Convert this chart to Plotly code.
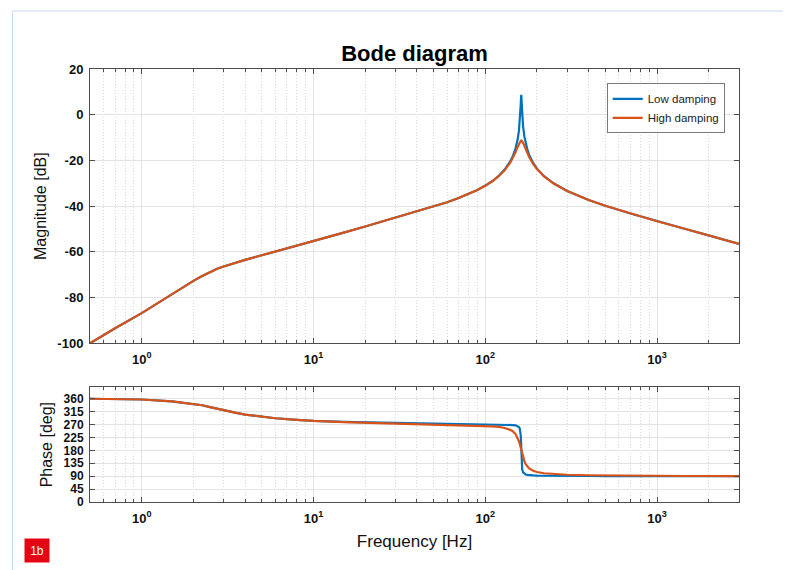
import plotly.graph_objects as go

# ---------------- data ----------------
freq_hz = [0.5, 0.7, 1, 1.5, 2, 2.25, 2.5, 2.75, 3, 3.5, 4, 5, 6, 8, 10, 15, 20, 30, 40, 50,
           60, 70, 80, 90, 100, 110, 120, 130, 140, 145, 150, 154, 157, 159, 160, 161,
           161.5, 162, 162.5, 163, 164, 166, 169, 172, 176, 180, 190, 200, 220, 250, 300,
           400, 500, 700, 1000, 1500, 2000, 3000]

mag_low_db = [-100, -93.4, -86.8, -78.5, -72.7, -70.6, -68.8, -67.4, -66.4, -64.8, -63.5,
              -61.5, -59.9, -57.4, -55.5, -51.6, -48.9, -45.1, -42.4, -40.1, -38.3, -36.4,
              -34.7, -32.9, -31.0, -29.0, -26.7, -23.9, -20.3, -17.9, -14.8, -11.2, -7.1,
              -2.8, 0.4, 4.8, 7.4, 8.7, 7.4, 4.9, 0.5, -5.0, -9.6, -12.6, -15.4, -17.5,
              -21.1, -23.6, -26.9, -30.0, -33.4, -37.3, -39.8, -43.2, -46.6, -50.2, -52.8,
              -56.5]

mag_high_db = [-100, -93.4, -86.8, -78.5, -72.7, -70.6, -68.8, -67.4, -66.4, -64.8, -63.5,
               -61.5, -59.9, -57.4, -55.5, -51.6, -48.9, -45.1, -42.4, -40.1, -38.3, -36.4,
               -34.7, -32.9, -31.1, -29.1, -26.8, -24.2, -20.9, -18.8, -16.4, -14.2, -12.7,
               -11.9, -11.6, -11.4, -11.4, -11.3, -11.3, -11.4, -11.6, -12.2, -13.6, -15.0,
               -16.8, -18.5, -21.5, -23.8, -27.0, -30.1, -33.4, -37.3, -39.8, -43.2, -46.6,
               -50.2, -52.8, -56.5]

phase_low_deg = [360, 359.5, 357.5, 351, 343, 337.3, 331, 324.8, 319, 311.5, 305, 297, 292,
                 286.5, 283.0, 279.4, 277.4, 275.4, 274.1, 273.2, 272.6, 272.2, 271.8, 271.4,
                 271.1, 270.75, 270.4, 270.0, 269.2, 268.4, 267.2, 265.1, 261.6, 255.5,
                 248.2, 231.0, 211.8, 181.0, 150.3, 131.1, 114.0, 103.0, 98.0, 96.0, 94.6,
                 93.7, 92.8, 92.3, 91.8, 91.4, 91.1, 90.7, 90.5, 90.4, 90.3, 90.2, 90.2, 90.2]

phase_high_deg = [360, 359.5, 357.5, 351, 343, 337.3, 331, 324.8, 319, 311.5, 305, 297, 292,
                  286.2, 282.6, 278.9, 276.8, 274.4, 272.7, 271.4, 270.3, 269.3, 268.3, 267.1,
                  265.8, 264.0, 261.7, 258.1, 251.6, 246.0, 237.0, 225.2, 212.1, 200.8,
                  194.4, 187.8, 184.4, 181.0, 177.6, 174.2, 167.7, 155.9, 141.9, 131.9,
                  123.1, 117.1, 108.9, 104.7, 100.3, 97.3, 95.1, 93.3, 92.5, 91.75, 91.2,
                  90.75, 90.6, 90.4]

series_names = ["Low damping", "High damping"]
series_colors = ["#0072BD", "#D95319"]

mag_ticks = [-100, -80, -60, -40, -20, 0, 20]
mag_labels = ["-100", "-80", "-60", "-40", "-20", "0", "20"]
phase_ticks = [0, 45, 90, 135, 180, 225, 270, 315, 360]
phase_labels = ["0", "45", "90", "135", "180", "225", "270", "315", "360"]
decade_ticks = [1, 10, 100, 1000]
decade_labels = ["10<sup>0</sup>", "10<sup>1</sup>", "10<sup>2</sup>", "10<sup>3</sup>"]
minor_ticks = [0.5, 0.6, 0.7, 0.8, 0.9, 2, 3, 4, 5, 6, 7, 8, 9, 20, 30, 40, 50, 60, 70, 80, 90,
               200, 300, 400, 500, 600, 700, 800, 900, 2000, 3000]

# ---------------- figure ----------------
FONT = "Liberation Sans, Arial, DejaVu Sans, sans-serif"
AXC = "#4d4d4d"
W, H = 783, 562          # page body has an 8px margin
L, T = 82, 61            # plot area starts at (90, 69) in the window
R, B = 52, 68

fig = go.Figure()
mags = [mag_low_db, mag_high_db]
phases = [phase_low_deg, phase_high_deg]
for i in range(2):
    fig.add_trace(go.Scatter(x=freq_hz, y=mags[i], mode="lines", name=series_names[i],
                             line=dict(color=series_colors[i], width=2.2),
                             xaxis="x", yaxis="y", showlegend=True))
for i in range(2):
    fig.add_trace(go.Scatter(x=freq_hz, y=phases[i], mode="lines", name=series_names[i],
                             line=dict(color=series_colors[i], width=2.2),
                             xaxis="x2", yaxis="y2", showlegend=False))

tickfont = dict(family=FONT, size=13, color="#111", weight="bold")

def xaxis_cfg(anchor, title=None):
    d = dict(type="log", range=[-0.30103, 3.47712], anchor=anchor, domain=[0, 1],
             tickvals=decade_ticks, ticktext=decade_labels, tickfont=tickfont,
             ticks="inside", ticklen=5, tickcolor=AXC, showline=True, linecolor=AXC,
             linewidth=1, mirror="allticks", showgrid=True, gridcolor="#e3e3e3",
             gridwidth=1, zeroline=False, ticklabelstandoff=4,
             minor=dict(tickvals=minor_ticks, ticks="inside", ticklen=3, tickcolor=AXC,
                        showgrid=True, gridcolor="#d6d6d6", griddash="1px,2px",
                        gridwidth=1))
    if title:
        d["title"] = dict(text=title, font=dict(family=FONT, size=17, color="#111"),
                          standoff=10)
    return d

def yaxis_cfg(anchor, domain, rng, ticks, labels, title, size):
    return dict(anchor=anchor, domain=domain, range=rng, tickvals=ticks, ticktext=labels,
                tickfont=dict(tickfont, size=size),
                ticks="inside", ticklen=5, tickcolor=AXC, showline=True, linecolor=AXC,
                linewidth=1, mirror="allticks", showgrid=True, gridcolor="#e3e3e3",
                gridwidth=1, zeroline=False, ticklabelstandoff=3,
                title=dict(text=title, font=dict(family=FONT, size=16, color="#111"),
                           standoff=6))

fig.update_layout(
    width=W, height=H,
    margin=dict(l=L, r=R, t=T, b=B),
    paper_bgcolor="white", plot_bgcolor="white",
    font=dict(family=FONT, color="#111"),
    title=dict(text="<b>Bode diagram</b>", x=0.5, xref="paper", xanchor="center",
               y=1 - 45 / H, yanchor="middle",
               font=dict(family=FONT, size=22, color="#000")),
    xaxis=xaxis_cfg("y"),
    yaxis=yaxis_cfg("x", [0.3665, 1], [-100, 20], mag_ticks, mag_labels,
                    "Magnitude [dB]", 13),
    xaxis2=xaxis_cfg("y2", "Frequency [Hz]"),
    yaxis2=yaxis_cfg("x2", [0, 0.2649], [0, 400], phase_ticks, phase_labels,
                     "Phase [deg]", 12),
    legend=dict(x=0.978, xanchor="right", y=0.967, yanchor="top", bgcolor="white",
                bordercolor="#7a7a7a", borderwidth=1, itemwidth=30, tracegroupgap=0,
                font=dict(family=FONT, size=11.5, color="#222")),
    showlegend=True,
    shapes=[dict(type="rect", xref="paper", yref="paper", x0=-0.1194, x1=1.0716,
                 y0=-0.2, y1=1.134, line=dict(color="#c8dbf0", width=1),
                 fillcolor="rgba(0,0,0,0)", layer="below")],
    annotations=[dict(text="1b", xref="paper", yref="paper", x=-0.0809, y=-0.1114,
                      xanchor="center", yanchor="middle", showarrow=False,
                      bgcolor="#e30613", width=22, height=21,
                      font=dict(family=FONT, size=12, color="white"))],
)

fig.write_html("out.html")
